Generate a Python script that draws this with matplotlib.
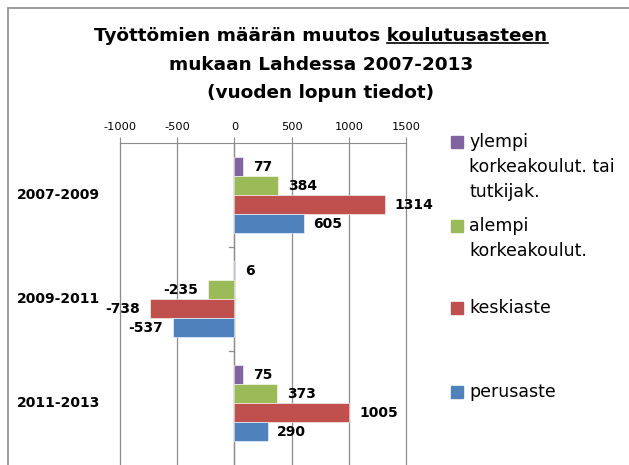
import matplotlib
matplotlib.use("Agg")
import matplotlib.pyplot as plt
import matplotlib.transforms as mtransforms
from matplotlib.patches import Rectangle
import numpy as np

plt.rcParams["font.family"] = ["DejaVu Sans"]

# data
periods = ["2007-2009", "2009-2011", "2011-2013"]
series = [["ylempi", "korkeakoulut. tai", "tutkijak."],
          ["alempi", "korkeakoulut."], ["keskiaste"], ["perusaste"]]
colors = ["#8064A2", "#9BBB59", "#C0504D", "#4F81BD"]
ylempi = [77, 6, 75]
alempi = [384, -235, 373]
keskiaste = [1314, -738, 1005]
perusaste = [605, -537, 290]
values = [ylempi, alempi, keskiaste, perusaste]
xticks = [-1000, -500, 0, 500, 1000, 1500]

W, H = 629, 465
GRAY = "#8c8c8c"
fig = plt.figure(figsize=(W / 100, H / 100), dpi=100)

# outer chart border (only top and left visible in the crop)
fig.add_artist(Rectangle((7.5 / W, -0.1), 1.2, (H - 8.5) / H + 0.1,
                         transform=fig.transFigure, fill=False,
                         edgecolor=GRAY, lw=1.2))

# title, three lines, first one partly underlined
tfs = 13.3
title_lines = ["Työttömien määrän muutos koulutusasteen",
               "mukaan Lahdessa 2007-2013", "(vuoden lopun tiedot)"]
title_y = [41, 69.5, 98]
tt = [fig.text(321 / W, 1 - ty / H, s, ha="center", va="baseline",
               fontsize=tfs, fontweight="bold")
      for s, ty in zip(title_lines, title_y)]

ax = fig.add_axes([120 / W, 0, 286 / W, 1 - 143 / H])
h = 0.183
offsets = [-1.5 * h, -0.5 * h, 0.5 * h, 1.5 * h]
y = np.arange(len(periods))
for vals, off, col in zip(values, offsets, colors):
    bars = ax.barh(y + off, vals, height=h, color=col, edgecolor="white",
                   linewidth=0.4, zorder=3)
    for b, v in zip(bars, vals):
        ax.annotate(str(v), (v, b.get_y() + b.get_height() / 2),
                    xytext=(7 if v >= 0 else -7, -0.5), textcoords="offset points",
                    ha="left" if v >= 0 else "right", va="center",
                    fontsize=10, fontweight="bold", zorder=4)

ax.set_xlim(-1000, 1500)
ax.set_ylim(-0.5 + (H - 143) / 104, -0.5)
ax.set_xticks(xticks)
ax.set_xticklabels([str(t) for t in xticks], fontsize=8.2)
ax.xaxis.tick_top()
ax.tick_params(axis="x", length=4, width=0.8, color=GRAY, pad=4)
ax.grid(axis="x", color=GRAY, lw=0.9, zorder=0)
for gl in ax.xaxis.get_gridlines():
    gl.set_clip_on(False)

for s in ["bottom", "right", "left"]:
    ax.spines[s].set_visible(False)
ax.spines["top"].set_color(GRAY)
ax.axvline(0, color=GRAY, lw=0.9, zorder=2)

# category axis: small ticks at group boundaries, labels far left
ax.set_yticks([])
tr = mtransforms.blended_transform_factory(ax.transAxes, ax.transData)
for yi, p in zip(y, periods):
    ax.text(-20 / 286, yi, p, transform=tr, ha="right", va="center",
            fontsize=10, fontweight="bold")
for yb in y[:-1] + 0.5:
    ax.plot([-50, 0], [yb, yb], color=GRAY, lw=0.9, zorder=2)

# legend, drawn as in the spreadsheet chart
leg_y = [147, 231, 313, 397]
for lines, col, ly in zip(series, colors, leg_y):
    fig.add_artist(Rectangle((451 / W, 1 - (ly + 1) / H), 12 / W, 12 / H,
                             transform=fig.transFigure, color=col))
    for k, s in enumerate(lines):
        fig.text(469 / W, 1 - (ly + 25 * k) / H, s, ha="left", va="baseline",
                 fontsize=12.5)

fig.canvas.draw()
# underline "koulutusasteen"
r = fig.canvas.get_renderer()
bb = tt[0].get_window_extent(r)
tmp = fig.text(0, 0, "koulutusasteen", fontsize=tfs, fontweight="bold")
wk = tmp.get_window_extent(r).width
tmp.remove()
fig.add_artist(plt.Line2D([(bb.x1 - wk) / W, bb.x1 / W], [1 - (title_y[0] + 2.5) / H] * 2,
                          transform=fig.transFigure, color="black", lw=1.2))

fig.savefig("out.png", dpi=100)
